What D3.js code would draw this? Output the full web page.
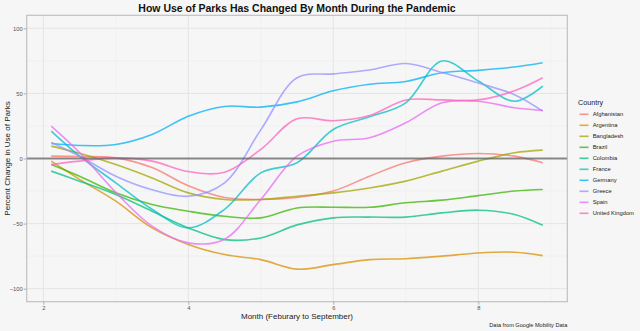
<!DOCTYPE html>
<html>
<head>
<meta charset="utf-8">
<script src="https://cdn.jsdelivr.net/npm/d3@7/dist/d3.min.js"></script>
<style>
  html, body { margin: 0; padding: 0; background: #f6f6f6; }
  svg { display: block; font-family: "Liberation Sans", Arial, Helvetica, sans-serif; }
</style>
</head>
<body>
<svg id="chart" width="640" height="331"></svg>
<script>
// Smoothed percent change in park visits, sampled by month (2 = February)
const months = [2.11, 2.5, 3, 3.5, 4, 4.5, 5, 5.5, 6, 6.5, 7, 7.5, 8, 8.5, 8.889];

const countries = ["Afghanistan", "Argentina", "Bangladesh", "Brazil", "Colombia",
                   "France", "Germany", "Greece", "Spain", "United Kingdom"];

const afghanistan = [1.8, 1.5, 0.5, -7, -21, -30, -31.5, -30, -25, -13.6, -3.3, 1.8, 3.8, 1.8, -3.3];
const argentina   = [-2, -16, -32.8, -53.3, -66, -73.8, -77.7, -85, -81.5, -77.7, -77, -75, -72.6, -72, -74.6];
const bangladesh  = [9.5, 4, -4.6, -14.9, -26.4, -31.5, -31.5, -29, -26.4, -22.6, -17.4, -9.7, -2, 4.4, 6.4];
const brazil      = [-4.6, -13.6, -26.4, -35.4, -40.5, -44.4, -45.6, -38, -37.4, -37.5, -34, -32, -28.5, -25, -23.8];
const colombia    = [-9.7, -17.4, -27.7, -40.5, -53.3, -62.3, -61, -51, -45.6, -45, -45, -41.8, -39.7, -43, -51.3];
const france      = [21, 1.8, -18.7, -39, -53.3, -39, -11, -3.3, 22.3, 32, 42.8, 74.9, 59.5, 44, 55.6];
const germany     = [11.5, 10, 10.8, 18.5, 32.5, 40, 39.5, 43.5, 52, 57, 59.2, 65.9, 67.7, 70.3, 73.6];
const greece      = [12.3, 1.8, -13.6, -24, -29, -18.7, 22, 62, 65, 68, 73, 66, 58, 49, 36.4];
const spain       = [24.9, 4.6, -26, -52, -64.8, -62, -31.5, 1.8, 13.3, 15.9, 27.4, 42.8, 44, 39, 37];
const unitedKingdom = [-4.6, -2, 0.5, -2, -10, -10.5, 7, 30.5, 29, 33, 45, 45, 45, 52, 62];

const seriesValues = [afghanistan, argentina, bangladesh, brazil, colombia,
                      france, germany, greece, spain, unitedKingdom];

const xTicks = [2, 4, 6, 8];
const xMinor = [3, 5, 7, 9];
const yTicks = [-100, -50, 0, 50, 100];
const yMinor = [-75, -25, 25, 75];

const palette = ["#F8766D", "#D89000", "#A3A500", "#39B600", "#00BF7D",
                 "#00BFC4", "#00B0F6", "#9590FF", "#E76BF3", "#FF62BC"];

const svg = d3.select("#chart");
const panel = { left: 26.7, right: 567.3, top: 15.3, bottom: 301.7 };

const x = d3.scaleLinear().domain([1.771, 9.228]).range([panel.left, panel.right]);
const y = d3.scaleLinear().domain([-110, 110]).range([panel.bottom, panel.top]);
const color = d3.scaleOrdinal().domain(countries).range(palette);

// panel background
svg.append("rect")
  .attr("x", panel.left).attr("y", panel.top)
  .attr("width", panel.right - panel.left).attr("height", panel.bottom - panel.top)
  .attr("fill", "#f6f6f6");

// grid
const grid = svg.append("g");
grid.selectAll(".xminor").data(xMinor).join("line")
  .attr("x1", d => x(d)).attr("x2", d => x(d))
  .attr("y1", panel.top).attr("y2", panel.bottom)
  .attr("stroke", "#ececec").attr("stroke-width", 0.6);
grid.selectAll(".yminor").data(yMinor).join("line")
  .attr("y1", d => y(d)).attr("y2", d => y(d))
  .attr("x1", panel.left).attr("x2", panel.right)
  .attr("stroke", "#ececec").attr("stroke-width", 0.6);
grid.selectAll(".xmajor").data(xTicks).join("line")
  .attr("x1", d => x(d)).attr("x2", d => x(d))
  .attr("y1", panel.top).attr("y2", panel.bottom)
  .attr("stroke", "#e4e4e4").attr("stroke-width", 1);
grid.selectAll(".ymajor").data(yTicks).join("line")
  .attr("y1", d => y(d)).attr("y2", d => y(d))
  .attr("x1", panel.left).attr("x2", panel.right)
  .attr("stroke", "#e4e4e4").attr("stroke-width", 1);

// country lines
const line = d3.line()
  .x((d, i) => x(months[i]))
  .y(d => y(d))
  .curve(d3.curveCatmullRom.alpha(0.5));

svg.append("g").selectAll("path")
  .data(countries.map((c, i) => ({ name: c, values: seriesValues[i] })))
  .join("path")
  .attr("d", d => line(d.values))
  .attr("fill", "none")
  .attr("stroke", d => color(d.name))
  .attr("stroke-width", 1.6)
  .attr("stroke-opacity", 0.75);

// reference line at zero change
svg.append("line")
  .attr("x1", panel.left).attr("x2", panel.right)
  .attr("y1", y(0)).attr("y2", y(0))
  .attr("stroke", "#666").attr("stroke-width", 2).attr("stroke-opacity", 0.75);

// panel border
svg.append("rect")
  .attr("x", panel.left).attr("y", panel.top)
  .attr("width", panel.right - panel.left).attr("height", panel.bottom - panel.top)
  .attr("fill", "none").attr("stroke", "#bdbdbd").attr("stroke-width", 1.1);

// axes
const xAxis = d3.axisBottom(x).tickValues(xTicks).tickSize(3).tickPadding(1).tickFormat(d3.format("d"));
const yAxis = d3.axisLeft(y).tickValues(yTicks).tickSize(3).tickPadding(1).tickFormat(d3.format("d"));

const gx = svg.append("g").attr("transform", `translate(0,${panel.bottom})`).call(xAxis);
const gy = svg.append("g").attr("transform", `translate(${panel.left},0)`).call(yAxis);
[gx, gy].forEach(g => {
  g.select(".domain").remove();
  g.selectAll(".tick line").attr("stroke", "#b0b0b0");
  g.selectAll(".tick text").attr("fill", "#555").attr("font-size", 5.8)
    .attr("font-family", "Liberation Sans, Arial, sans-serif");
});

// titles
svg.append("text")
  .attr("x", (panel.left + panel.right) / 2).attr("y", 12)
  .attr("text-anchor", "middle").attr("font-size", 10.5).attr("font-weight", "bold")
  .attr("fill", "#111")
  .text("How Use of Parks Has Changed By Month During the Pandemic");

svg.append("text")
  .attr("x", (panel.left + panel.right) / 2).attr("y", 318.8)
  .attr("text-anchor", "middle").attr("font-size", 8).attr("fill", "#222")
  .text("Month (Feburary to September)");

svg.append("text")
  .attr("transform", `translate(9.8,${y(0)}) rotate(-90)`)
  .attr("text-anchor", "middle").attr("font-size", 8).attr("fill", "#222")
  .text("Percent Change in Use of Parks");

svg.append("text")
  .attr("x", panel.right).attr("y", 326.5)
  .attr("text-anchor", "end").attr("font-size", 5.6).attr("fill", "#222")
  .text("Data from Google Mobility Data");

// legend
const legend = svg.append("g").attr("transform", "translate(578,0)");
legend.append("text")
  .attr("x", 0).attr("y", 105)
  .attr("font-size", 7.2).attr("fill", "#222")
  .text("Country");

const items = legend.selectAll(".item").data(countries).join("g")
  .attr("transform", (d, i) => `translate(0,${114.3 + i * 11})`);
items.append("line")
  .attr("x1", 1.5).attr("x2", 10.5)
  .attr("stroke", d => color(d)).attr("stroke-width", 1.6).attr("stroke-opacity", 0.75);
items.append("text")
  .attr("x", 14.7).attr("y", 2)
  .attr("font-size", 5.8).attr("fill", "#222")
  .text(d => d);
</script>
</body>
</html>
